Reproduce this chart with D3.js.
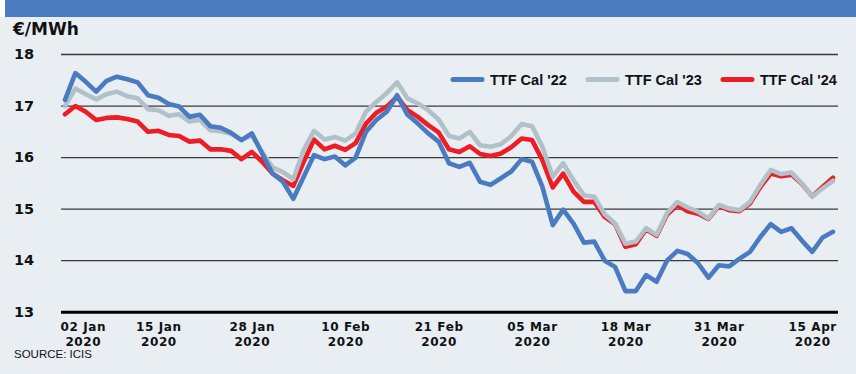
<!DOCTYPE html>
<html>
<head>
<meta charset="utf-8">
<script src="https://cdn.jsdelivr.net/npm/d3@7"></script>
<style>
  html, body { margin: 0; padding: 0; background: #ffffff; }
  svg { display: block; }
</style>
</head>
<body>
<svg id="chart" width="856" height="374"></svg>
<script>
// Trading days, 2 Jan – 17 Apr 2020
const dates = [
  "2020-01-02","2020-01-03","2020-01-06","2020-01-07","2020-01-08","2020-01-09","2020-01-10",
  "2020-01-13","2020-01-14","2020-01-15","2020-01-16","2020-01-17","2020-01-20","2020-01-21",
  "2020-01-22","2020-01-23","2020-01-24","2020-01-27","2020-01-28","2020-01-29","2020-01-30",
  "2020-01-31","2020-02-03","2020-02-04","2020-02-05","2020-02-06","2020-02-07","2020-02-10",
  "2020-02-11","2020-02-12","2020-02-13","2020-02-14","2020-02-17","2020-02-18","2020-02-19",
  "2020-02-20","2020-02-21","2020-02-24","2020-02-25","2020-02-26","2020-02-27","2020-02-28",
  "2020-03-02","2020-03-03","2020-03-04","2020-03-05","2020-03-06","2020-03-09","2020-03-10",
  "2020-03-11","2020-03-12","2020-03-13","2020-03-16","2020-03-17","2020-03-18","2020-03-19",
  "2020-03-20","2020-03-23","2020-03-24","2020-03-25","2020-03-26","2020-03-27","2020-03-30",
  "2020-03-31","2020-04-01","2020-04-02","2020-04-03","2020-04-06","2020-04-07","2020-04-08",
  "2020-04-09","2020-04-14","2020-04-15","2020-04-16","2020-04-17"
];

// €/MWh settlement prices
const cal22 = [
  17.11,17.63,17.46,17.27,17.48,17.56,17.51,17.45,17.20,17.15,
  17.03,16.98,16.78,16.82,16.60,16.57,16.47,16.33,16.46,16.07,
  15.68,15.52,15.19,15.62,16.04,15.96,16.01,15.84,15.99,16.49,
  16.72,16.88,17.20,16.82,16.65,16.46,16.30,15.88,15.81,15.89,
  15.52,15.46,15.59,15.72,15.96,15.91,15.42,14.68,14.98,14.71,
  14.34,14.36,13.99,13.87,13.40,13.40,13.71,13.58,13.99,14.18,
  14.12,13.94,13.66,13.90,13.88,14.03,14.16,14.45,14.70,14.55,
  14.62,14.38,14.16,14.44,14.55
];
const cal23 = [
  16.99,17.33,17.22,17.12,17.22,17.27,17.18,17.14,16.93,16.91,
  16.80,16.83,16.69,16.72,16.52,16.50,16.45,16.33,16.42,16.10,
  15.80,15.71,15.57,16.14,16.51,16.34,16.39,16.32,16.46,16.88,
  17.07,17.24,17.45,17.14,17.04,16.91,16.73,16.41,16.36,16.49,
  16.23,16.20,16.25,16.41,16.64,16.60,16.20,15.62,15.88,15.55,
  15.26,15.23,14.89,14.71,14.32,14.36,14.62,14.49,14.91,15.13,
  15.02,14.94,14.81,15.07,15.00,14.97,15.13,15.46,15.75,15.67,
  15.70,15.49,15.24,15.39,15.54
];
const cal24 = [
  16.83,16.99,16.88,16.72,16.76,16.77,16.74,16.69,16.49,16.51,
  16.43,16.41,16.30,16.32,16.15,16.15,16.12,15.96,16.10,15.91,
  15.68,15.55,15.44,15.91,16.34,16.15,16.22,16.14,16.27,16.65,
  16.86,16.98,17.17,16.91,16.78,16.62,16.48,16.15,16.10,16.21,
  16.06,16.02,16.07,16.19,16.36,16.33,15.94,15.41,15.68,15.33,
  15.13,15.13,14.84,14.70,14.26,14.31,14.60,14.47,14.88,15.07,
  14.95,14.90,14.80,15.05,14.97,14.95,15.10,15.42,15.68,15.63,
  15.66,15.48,15.24,15.42,15.60
];

const seriesNames = ["TTF Cal '22", "TTF Cal '23", "TTF Cal '24"];
const yTicks = [13, 14, 15, 16, 17, 18];
const xTickDates = ["2020-01-02","2020-01-15","2020-01-28","2020-02-10","2020-02-21",
                    "2020-03-05","2020-03-18","2020-03-31","2020-04-15"];
const unitLabel = "€/MWh";
const sourceLabel = "SOURCE: ICIS";

const colors = ["#4a7bc0", "#b1c1ca", "#ee1d25"];
const W = 856, H = 374;

const svg = d3.select("#chart");

// panel and header band
svg.append("rect").attr("x", 0).attr("y", 0).attr("width", W).attr("height", H).attr("fill", "#e9eef3");
svg.append("rect").attr("x", 0).attr("y", 0).attr("width", 5).attr("height", 17).attr("fill", "#ffffff");
svg.append("rect").attr("x", 5).attr("y", 0).attr("width", W - 5).attr("height", 17).attr("fill", "#4a7abf");

const plotLeft = 61, plotRight = 838;
const x = d3.scaleLinear().domain([0, dates.length - 1]).range([65, 833]);
const y = d3.scaleLinear().domain([13, 18]).range([311.7, 54]);

// unit title
svg.append("text")
  .attr("x", 13).attr("y", 35)
  .attr("font-family", "DejaVu Sans, sans-serif")
  .attr("font-weight", "bold")
  .attr("font-size", 17)
  .attr("fill", "#111")
  .text(unitLabel);

// horizontal gridlines with value labels
const yAxis = svg.append("g")
  .attr("transform", `translate(${plotLeft},0)`)
  .call(d3.axisLeft(y).tickValues(yTicks).tickSize(-(plotRight - plotLeft)).tickFormat(d3.format("d")));
yAxis.select(".domain").remove();
yAxis.selectAll(".tick line")
  .attr("stroke", d => d === 13 ? "#000" : "#3a3a3a")
  .attr("stroke-width", d => d === 13 ? 3 : 1.3);
yAxis.selectAll(".tick text")
  .attr("x", 14 - plotLeft)
  .attr("text-anchor", "start")
  .attr("font-family", "DejaVu Sans, sans-serif")
  .attr("font-weight", "bold")
  .attr("font-size", 14.5)
  .attr("fill", "#111");

// date axis: day/month on one line, year below
const fmtDay = d3.timeFormat("%d %b");
const fmtYear = d3.timeFormat("%Y");
const parse = d3.timeParse("%Y-%m-%d");
const tickIdx = xTickDates.map(d => dates.indexOf(d));

const xAxis = svg.append("g")
  .attr("transform", `translate(0,${y(13)})`)
  .call(d3.axisBottom(x).tickValues(tickIdx).tickSize(0).tickFormat(i => fmtDay(parse(dates[i]))));
xAxis.select(".domain").remove();
xAxis.selectAll(".tick text")
  .attr("y", 19.8)
  .attr("dy", 0)
  .attr("font-family", "DejaVu Sans, sans-serif")
  .attr("font-weight", "bold")
  .attr("font-size", 12)
  .attr("letter-spacing", 0.6)
  .attr("fill", "#111");
xAxis.selectAll(".tick").append("text")
  .attr("class", "year")
  .attr("y", 34.1)
  .attr("text-anchor", "middle")
  .attr("font-family", "DejaVu Sans, sans-serif")
  .attr("font-weight", "bold")
  .attr("font-size", 12)
  .attr("letter-spacing", 0.6)
  .attr("fill", "#111")
  .text(i => fmtYear(parse(dates[i])));
// keep the first label inside the plot's left edge
xAxis.selectAll(".tick").each(function(i) {
  const g = d3.select(this);
  const box = this.getBBox();
  const absLeft = x(i) + box.x;
  if (absLeft < plotLeft - 1) {
    g.selectAll("text").attr("transform", `translate(${plotLeft - 1 - absLeft},0)`);
  }
});

// price lines (drawn back to front)
const line = d3.line().x((d, i) => x(i)).y(d => y(d));
const drawOrder = [[cal24, colors[2]], [cal23, colors[1]], [cal22, colors[0]]];
svg.append("g").selectAll("path")
  .data(drawOrder)
  .join("path")
  .attr("d", d => line(d[0]))
  .attr("fill", "none")
  .attr("stroke", d => d[1])
  .attr("stroke-width", 4.6)
  .attr("stroke-linejoin", "round")
  .attr("stroke-linecap", "round");

// legend
const legendX = [453, 588, 723];
const legend = svg.append("g").selectAll("g")
  .data(seriesNames)
  .join("g")
  .attr("transform", (d, i) => `translate(${legendX[i]},79.5)`);
legend.append("line")
  .attr("x1", 0).attr("x2", 29).attr("y1", 0).attr("y2", 0)
  .attr("stroke", (d, i) => colors[i])
  .attr("stroke-width", 5)
  .attr("stroke-linecap", "round");
legend.append("text")
  .attr("x", 37).attr("y", 5)
  .attr("font-family", "Liberation Sans, Arial, sans-serif")
  .attr("font-weight", "bold")
  .attr("font-size", 14.5)
  .attr("fill", "#111")
  .text(d => d);

// source note
svg.append("text")
  .attr("x", 14).attr("y", 358)
  .attr("font-family", "Liberation Sans, Arial, sans-serif")
  .attr("font-size", 11.5)
  .attr("fill", "#111")
  .text(sourceLabel);
</script>
</body>
</html>
